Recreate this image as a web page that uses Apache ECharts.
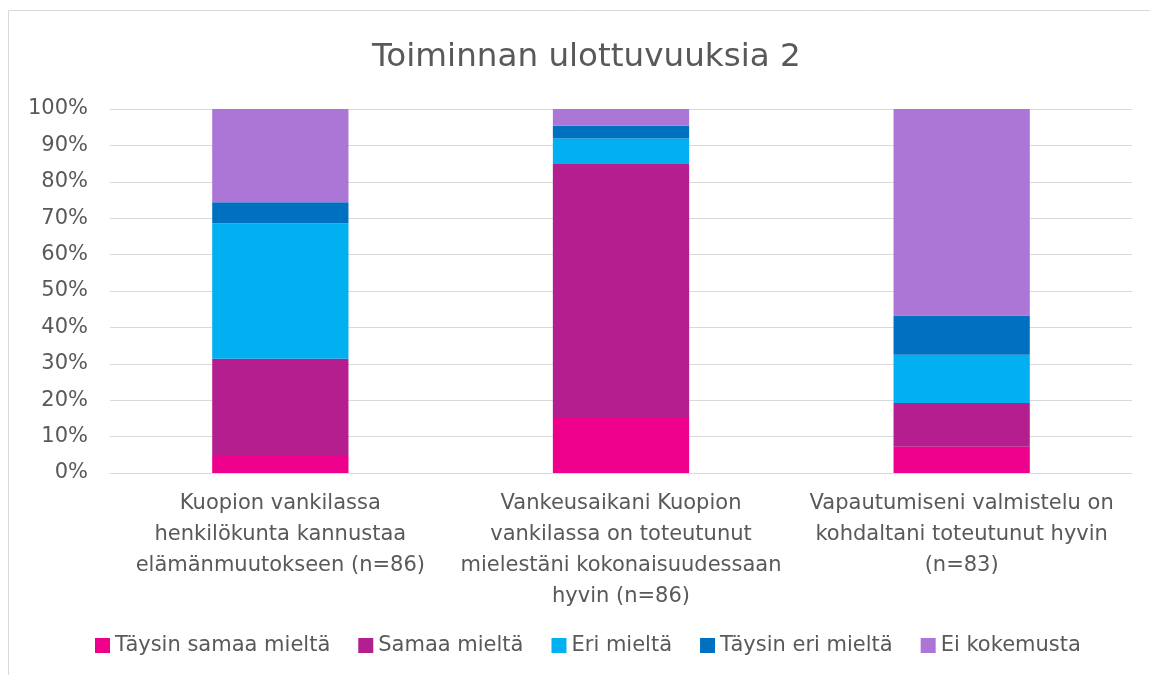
<!DOCTYPE html>
<html>
<head>
<meta charset="utf-8">
<script src="https://cdn.jsdelivr.net/npm/echarts@6/dist/echarts.min.js"></script>
<style>
html,body{margin:0;padding:0;background:#fff;}
#chart{width:1150px;height:675px;}
</style>
</head>
<body>
<div id="chart"></div>
<script>
const titleText = 'Toiminnan ulottuvuuksia 2';
const categories = [
  'Kuopion vankilassa\nhenkilökunta kannustaa\nelämänmuutokseen (n=86)',
  'Vankeusaikani Kuopion\nvankilassa on toteutunut\nmielestäni kokonaisuudessaan\nhyvin (n=86)',
  'Vapautumiseni valmistelu on\nkohdaltani toteutunut hyvin\n(n=83)'
];
const seriesNames = ['Täysin samaa mieltä', 'Samaa mieltä', 'Eri mieltä', 'Täysin eri mieltä', 'Ei kokemusta'];
const taysinSamaa = [4.7, 15.1, 7.2];
const samaa = [26.7, 69.8, 12.0];
const eri = [37.2, 7.0, 13.3];
const taysinEri = [5.8, 3.5, 10.8];
const eiKokemusta = [25.6, 4.6, 56.7];
const yTicks = [0, 10, 20, 30, 40, 50, 60, 70, 80, 90, 100];
const colors = ['#EC008C', '#B41E8E', '#00B0F0', '#0070C0', '#AB76D6'];

const FONT = '"DejaVu Sans", sans-serif';
const seriesData = [taysinSamaa, samaa, eri, taysinEri, eiKokemusta];

const chart = echarts.init(document.getElementById('chart'), null, {renderer: 'canvas'});
chart.setOption({
  animation: false,
  backgroundColor: '#ffffff',
  color: colors,
  title: {
    text: titleText,
    left: 367,
    top: 36,
    textStyle: {fontFamily: FONT, fontSize: 32.6, fontWeight: 'normal', color: '#595959'}
  },
  graphic: [{
    type: 'rect',
    shape: {x: 8.5, y: 10.5, width: 1200, height: 700},
    style: {fill: 'none', stroke: '#d9d9d9', lineWidth: 1},
    silent: true
  }],
  legend: {
    data: seriesNames,
    bottom: 14,
    left: 90,
    itemWidth: 15,
    itemHeight: 15,
    itemGap: 28,
    icon: 'rect',
    textStyle: {fontFamily: FONT, fontSize: 21, color: '#595959'}
  },
  grid: {left: 110, right: 18, top: 109, bottom: 202, containLabel: false},
  xAxis: {
    type: 'category',
    data: categories,
    axisLine: {show: true, lineStyle: {color: '#d9d9d9', width: 1}},
    axisTick: {show: false},
    axisLabel: {
      fontFamily: FONT, fontSize: 21, color: '#595959',
      lineHeight: 31, margin: 15, interval: 0, align: 'center'
    }
  },
  yAxis: {
    type: 'value',
    min: yTicks[0],
    max: yTicks[yTicks.length - 1],
    interval: yTicks[1] - yTicks[0],
    axisLine: {show: false},
    axisTick: {show: false},
    splitLine: {lineStyle: {color: '#d9d9d9', width: 1}},
    axisLabel: {
      fontFamily: FONT, fontSize: 21, color: '#595959', margin: 22,
      formatter: '{value}%'
    }
  },
  series: seriesNames.map((name, i) => ({
    name: name,
    type: 'bar',
    stack: 'total',
    barWidth: '40%',
    data: seriesData[i],
    itemStyle: {color: colors[i]}
  }))
});
</script>
</body>
</html>
